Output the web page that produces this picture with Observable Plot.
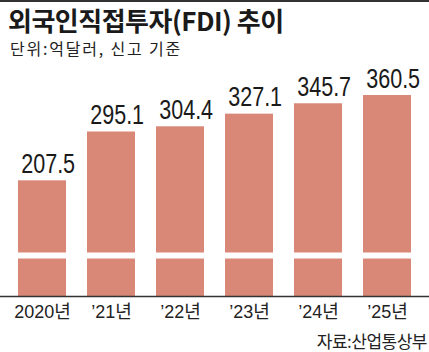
<!DOCTYPE html>
<html><head><meta charset="utf-8">
<script src="https://cdn.jsdelivr.net/npm/d3@7"></script>
<script src="https://cdn.jsdelivr.net/npm/@observablehq/plot@0.6"></script>
<style>
body{margin:0;background:#fff;width:429px;height:352px;overflow:hidden;position:relative;font-family:"Liberation Sans","Noto Sans CJK KR",sans-serif;}
#topline{position:absolute;left:0;top:0;width:429px;height:2px;background:#333;}
#title{position:absolute;left:8px;top:3px;font-family:"Noto Sans CJK KR",sans-serif;font-weight:700;font-size:26px;line-height:34px;letter-spacing:-0.5px;color:#1a1a1a;white-space:nowrap;z-index:2;}
#sub{position:absolute;left:10px;top:38px;font-family:"Noto Sans CJK KR",sans-serif;font-size:16px;line-height:20px;letter-spacing:1.8px;color:#222;white-space:nowrap;z-index:2;}
#chart{position:absolute;left:0;top:48px;z-index:1;}
#src{position:absolute;right:2px;top:331px;font-family:"Noto Sans CJK KR",sans-serif;font-size:17px;line-height:20px;letter-spacing:-0.5px;color:#222;white-space:nowrap;}
</style></head>
<body>
<div id="topline"></div>
<div id="title">외국인직접투자(FDI) 추이</div>
<div id="sub">단위:억달러, 신고 기준</div>
<div id="chart"></div>
<div id="src">자료:산업통상부</div>
<script>
const years = ["2020년","’21년","’22년","’23년","’24년","’25년"];
const values = [207.5, 295.1, 304.4, 327.1, 345.7, 360.5];
const breakValue = 73.5;
const data = years.map((y,i)=>({year:y, value:values[i]}));
const barColor = "#d98877";
const plot = Plot.plot({
  width: 429,
  height: 280,
  marginLeft: 0,
  marginRight: 0,
  marginTop: 25,
  marginBottom: 32,
  style: {fontFamily: '"Liberation Sans","Noto Sans CJK KR",sans-serif', background: "transparent", overflow: "visible"},
  x: {domain: years, paddingInner: 0.304, paddingOuter: 0.26, label: null},
  y: {domain: [0, 400], axis: null},
  marks: [
    Plot.barY(data, {x: "year", y: "value", fill: barColor}),
    Plot.ruleY([breakValue], {stroke: "#fff", strokeWidth: 6}),
    Plot.ruleY([0], {stroke: "#333", strokeWidth: 1.5}),
    Plot.text(data, {x: "year", y: "value", text: d => d.value.toFixed(1), lineAnchor: "bottom", dy: -8, fontSize: 28, fill: "#1a1a1a"}),
    Plot.axisX({fontSize: 18, tickSize: 0, tickPadding: 9, fill: "#222", label: null})
  ]
});
document.getElementById("chart").appendChild(plot);
const svgRect = plot.getBoundingClientRect();
plot.querySelectorAll('g[aria-label="text"] text').forEach(t => {
  const r = t.getBoundingClientRect();
  const cx = r.left + r.width / 2 - svgRect.left;
  const prev = t.getAttribute("transform") || "";
  t.setAttribute("transform", `translate(${cx},0) scale(0.77,1) translate(${-cx},0) ${prev}`);
});
</script>
</body></html>
